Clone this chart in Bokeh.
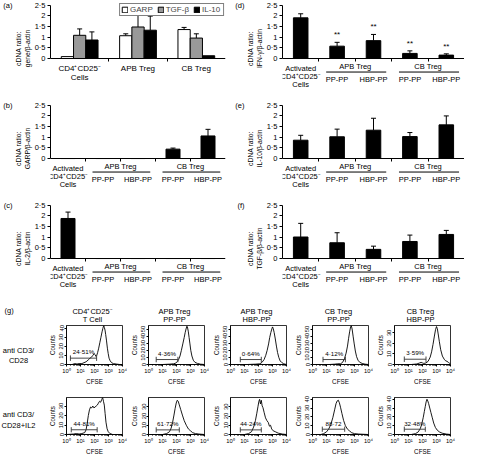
import numpy as np
from bokeh.plotting import figure
from bokeh.models import Range1d, FixedTicker, ColumnDataSource, Whisker, TeeHead, LinearAxis
from bokeh.layouts import row, column
from bokeh.embed import file_html
from bokeh.resources import INLINE
from bokeh.core.properties import value

# ------------------------------------------------------------------ data
Y_TICKS = [0, 0.5, 1, 1.5, 2, 2.5]
Y_TICK_LABELS = ["0", "0·5", "1", "1·5", "2", "2·5"]

# (a) gene expression by cell type
a_cat_line1 = ["CD4⁺CD25⁻", "APB Treg", "CB Treg"]
a_cat_line2 = ["Cells", "", ""]
a_series = ["GARP", "TGF-β", "IL-10"]
a_garp = [0.09, 1.07, 1.36]
a_garp_err = [0.0, 0.09, 0.10]
a_tgf = [1.09, 1.48, 0.96]
a_tgf_err = [0.30, 0.56, 0.20]
a_il10 = [0.87, 1.33, 0.13]
a_il10_err = [0.38, 0.66, 0.0]

# (b)-(f) categories
ctrl_lines = ["Activated", "CD4⁺CD25⁻", "Cells"]
group_names = ["APB Treg", "CB Treg"]
sub_names = ["PP-PP", "HBP-PP", "PP-PP", "HBP-PP"]

b_vals = [0.0, 0.0, 0.0, 0.44, 1.06]
b_err = [0.0, 0.0, 0.0, 0.05, 0.31]
c_vals = [1.88, 0.0, 0.0, 0.0, 0.0]
c_err = [0.30, 0.0, 0.0, 0.0, 0.0]
d_vals = [1.91, 0.58, 0.84, 0.24, 0.16]
d_err = [0.19, 0.18, 0.29, 0.12, 0.06]
d_sig = ["", "**", "**", "**", "**"]
e_vals = [0.86, 1.02, 1.33, 1.03, 1.58]
e_err = [0.23, 0.36, 0.56, 0.19, 0.42]
f_vals = [1.01, 0.74, 0.43, 0.80, 1.13]
f_err = [0.64, 0.47, 0.15, 0.30, 0.19]

# (g) CFSE histograms (log10 CFSE, counts)
g_headers1 = ["CD4⁺CD25⁻", "APB Treg", "APB Treg", "CB Treg", "CB Treg"]
g_headers2 = ["T Cell", "PP-PP", "HBP-PP", "PP-PP", "HBP-PP"]
g_rows = ["anti CD3/\nCD28", "anti CD3/\nCD28+IL2"]
LOG_TICKS = [1, 10, 100, 1000, 10000]
LOG_TICK_LABELS = ["10⁰", "10¹", "10²", "10³", "10⁴"]

t1_exp = [0, 0.4, 0.6, 0.75, 0.9, 1.1, 1.25, 1.4, 1.55, 1.68, 1.78, 1.88, 1.97, 2.04, 2.1, 2.16, 2.22, 2.3,
          2.38, 2.46, 2.54, 2.6, 2.66, 2.7, 2.75, 2.8, 2.86, 2.92, 2.98, 3.04, 3.12, 3.22, 3.35, 3.55, 3.8, 4.0]
t1_cnt = [0, 0, 1, 0.5, 1, 1, 2, 3, 5, 7, 8, 10, 12, 11, 9, 10, 13, 18,
          24, 30, 36, 40, 43, 41, 38, 33, 26, 18, 12, 7, 4, 2, 1, 0.5, 0, 0]
t2_exp = [0, 1.0, 1.5, 1.8, 1.95, 2.05, 2.15, 2.25, 2.35, 2.45, 2.55, 2.62, 2.68, 2.74, 2.78, 2.84, 2.9,
          2.96, 3.02, 3.1, 3.2, 3.32, 3.5, 3.7, 4.0]
t2_cnt = [0, 0, 0.5, 1, 2, 4, 7, 12, 20, 29, 38, 45, 50, 54, 53, 47, 38, 29, 20, 12, 6, 3, 1.5, 0.5, 0]
t3_exp = [0, 1.2, 1.8, 2.1, 2.25, 2.4, 2.52, 2.62, 2.72, 2.8, 2.88, 2.95, 3.0, 3.05, 3.12, 3.2, 3.28,
          3.36, 3.45, 3.55, 3.65, 3.8, 4.0]
t3_cnt = [0, 0, 0.5, 1, 3, 7, 13, 20, 29, 38, 45, 50, 53, 51, 45, 36, 26, 17, 10, 5, 3, 1, 0]
t4_exp = [0, 1.2, 1.6, 1.8, 2.0, 2.15, 2.28, 2.4, 2.5, 2.58, 2.65, 2.72, 2.77, 2.83, 2.9, 2.98, 3.06,
          3.15, 3.25, 3.38, 3.55, 3.75, 4.0]
t4_cnt = [0, 0, 0.5, 1, 1, 3, 8, 16, 26, 37, 46, 53, 55, 50, 40, 29, 19, 11, 6, 3, 1.5, 0.5, 0]
t5_exp = [0, 1.2, 1.6, 1.8, 1.9, 2.0, 2.1, 2.25, 2.4, 2.55, 2.65, 2.75, 2.85, 2.93, 3.0, 3.06, 3.12,
          3.2, 3.3, 3.42, 3.55, 3.65, 3.75, 3.85, 3.95, 4.0]
t5_cnt = [0, 0, 0.5, 1.5, 2, 1.5, 1, 1.5, 3, 7, 12, 19, 27, 33, 36, 34, 29, 22, 14, 8, 5, 3.5, 3, 2, 1, 0.5]

u1_exp = [0, 0.5, 0.7, 0.9, 1.1, 1.3, 1.4, 1.48, 1.56, 1.64, 1.72, 1.8, 1.88, 1.96, 2.04, 2.12, 2.2,
          2.28, 2.36, 2.44, 2.52, 2.58, 2.64, 2.7, 2.76, 2.82, 2.9, 2.98, 3.1, 3.3, 4.0]
u1_cnt = [0, 0.5, 1, 0.5, 1, 2, 5, 12, 20, 26, 29, 28, 30, 28, 29, 30, 31, 33, 35, 34, 37, 39, 35, 31,
          22, 13, 6, 3, 1, 0, 0]
u2_exp = [0, 1.0, 1.3, 1.5, 1.62, 1.72, 1.82, 1.9, 1.98, 2.05, 2.12, 2.2, 2.3, 2.42, 2.55, 2.7, 2.85,
          3.0, 3.15, 3.35, 3.6, 4.0]
u2_cnt = [0, 0, 1, 3, 7, 13, 21, 28, 34, 37, 36, 32, 27, 21, 15, 10, 6, 4, 2, 1, 0.5, 0]
u3_exp = [0, 1.0, 1.3, 1.5, 1.65, 1.78, 1.88, 1.96, 2.03, 2.08, 2.14, 2.2, 2.26, 2.32, 2.4, 2.5, 2.6,
          2.7, 2.78, 2.86, 2.94, 3.05, 3.2, 3.4, 3.7, 4.0]
u3_cnt = [0, 0, 1, 3, 8, 15, 23, 30, 36, 38, 33, 37, 31, 29, 24, 18, 15, 13, 9, 10, 6, 4, 3, 1.5, 0.5, 0]
u4_exp = [0, 0.6, 0.8, 1.0, 1.15, 1.3, 1.45, 1.58, 1.68, 1.76, 1.84, 1.92, 2.0, 2.1, 2.22, 2.35, 2.5,
          2.65, 2.8, 3.0, 3.3, 4.0]
u4_cnt = [0, 0, 1, 3, 6, 11, 19, 28, 35, 38, 39, 36, 31, 24, 16, 10, 6, 4, 2, 1, 0.5, 0]
u5_exp = [0, 1.2, 1.5, 1.7, 1.85, 1.95, 2.05, 2.13, 2.2, 2.26, 2.32, 2.38, 2.44, 2.52, 2.6, 2.7, 2.8,
          2.92, 3.05, 3.2, 3.4, 3.7, 4.0]
u5_cnt = [0, 0, 1, 3, 7, 12, 19, 26, 32, 37, 40, 38, 35, 30, 25, 19, 13, 8, 5, 3, 1.5, 0.5, 0]

top_exp = [t1_exp, t2_exp, t3_exp, t4_exp, t5_exp]
top_cnt = [t1_cnt, t2_cnt, t3_cnt, t4_cnt, t5_cnt]
top_ymax = [43, 55, 55, 55, 37]
top_yticks = [[0, 10, 20, 30, 40], [0, 10, 20, 30, 40, 50], [0, 10, 20, 30, 40, 50],
              [0, 10, 20, 30, 40, 50], [0, 10, 20, 30]]
top_gate_lo = [0.28, 0.55, 0.7, 0.75, 0.7]
top_gate_hi = [2.15, 2.1, 2.2, 2.35, 2.25]
top_gate_y = [7, 7, 7, 7, 5]
top_pct = ["24·51%", "4·36%", "0·64%", "4·12%", "3·59%"]

bot_exp = [u1_exp, u2_exp, u3_exp, u4_exp, u5_exp]
bot_cnt = [u1_cnt, u2_cnt, u3_cnt, u4_cnt, u5_cnt]
bot_ymax = [39, 40, 40, 42, 42]
bot_yticks = [[0, 10, 20, 30], [0, 10, 20, 30], [0, 10, 20, 30], [0, 10, 20, 30, 40], [0, 10, 20, 30, 40]]
bot_gate_lo = [0.34, 0.55, 0.7, 0.7, 0.7]
bot_gate_hi = [2.19, 2.2, 2.2, 2.3, 2.2]
bot_gate_y = [5, 5, 5, 6, 6]
bot_pct = ["44·81%", "61·72%", "44·24%", "88·72", "32·48%"]

# ------------------------------------------------------------------ styling
FONT = "Liberation Sans"
INK = "#000000"
GREY = "#999999"
PPU = 21.3          # px per data unit on bar panels
Y_END = 2.63
SC = 0.966          # reference px -> page px


def below(px):
    """reference-pixel distance below the x axis, in data units"""
    return -px * SC / PPU


def txt(p, xs, ys, texts, size, align="center", baseline="middle", **kw):
    src = ColumnDataSource(dict(x=xs, y=ys, t=texts))
    p.text(x="x", y="y", text="t", source=src, text_font=value(FONT), text_font_size=size,
           text_align=align, text_baseline=baseline, text_color=INK, **kw)


def base_panel(W, H, left, right, ncat, ylab, letter):
    top, bottom = 2, 6
    y_start = Y_END - (H - top - bottom) / PPU
    p = figure(width=W, height=H, x_range=Range1d(-0.5, ncat - 0.5), y_range=Range1d(y_start, Y_END),
               output_backend="svg", toolbar_location=None,
               min_border_left=left, min_border_right=right, min_border_top=top, min_border_bottom=bottom)
    p.outline_line_color = None
    p.grid.visible = False
    ya = p.yaxis[0]
    ya.ticker = FixedTicker(ticks=Y_TICKS)
    ya.major_label_overrides = dict(zip(Y_TICKS, Y_TICK_LABELS))
    ya.bounds = (0, 2.5)
    ya.major_tick_out = 3
    ya.major_tick_in = 0
    ya.minor_tick_line_color = None
    ya.axis_line_color = INK
    ya.major_tick_line_color = INK
    ya.major_label_text_font = FONT
    ya.major_label_text_font_size = "7.5px"
    ya.major_label_text_color = INK
    ya.major_label_standoff = 2
    ya.axis_label = ylab
    ya.axis_label_text_font = FONT
    ya.axis_label_text_font_size = "6.8px"
    ya.axis_label_text_font_style = "normal"
    ya.axis_label_text_color = INK
    ya.axis_label_standoff = 1
    # panel letter: an outer left axis carrying a single label at the top
    lax = LinearAxis(ticker=FixedTicker(ticks=[2.5]), major_label_overrides={2.5: letter},
                     axis_line_color=None, major_tick_line_color=None, minor_tick_line_color=None,
                     major_tick_out=0, major_tick_in=0, major_label_standoff=0,
                     major_label_text_font=FONT, major_label_text_font_size="7.5px",
                     major_label_text_color=INK)
    p.add_layout(lax, "left")
    xa = p.xaxis[0]
    xa.fixed_location = 0
    xa.ticker = FixedTicker(ticks=[], minor_ticks=[k + 0.5 for k in range(ncat - 1)])
    xa.major_label_text_font_size = "0px"
    xa.major_label_standoff = 0
    xa.major_tick_line_color = None
    xa.minor_tick_out = 3
    xa.minor_tick_in = 0
    xa.minor_tick_line_color = INK
    xa.axis_line_color = INK
    return p


def add_whiskers(p, xs, vals, errs):
    keep = [i for i, e in enumerate(errs) if e > 0]
    src = ColumnDataSource(dict(x=[xs[i] for i in keep], lo=[vals[i] for i in keep],
                                hi=[vals[i] + errs[i] for i in keep]))
    p.add_layout(Whisker(source=src, base="x", lower="lo", upper="hi", dimension="height",
                         line_color=INK, line_width=1, lower_head=None,
                         upper_head=TeeHead(size=5, line_color=INK, line_width=1)))


def five_bar_panel(vals, errs, ylab, letter, left, right, sig=None):
    p = base_panel(232, 100, left, right, 5, ylab, letter)
    xs = list(range(len(vals)))
    p.vbar(x=xs, top=vals, bottom=0, width=0.4, fill_color=INK, line_color=INK)
    add_whiskers(p, xs, vals, errs)
    if sig is not None:
        ks = [i for i, s in enumerate(sig) if s]
        txt(p, [xs[i] for i in ks], [vals[i] + errs[i] + 0.35 for i in ks], [sig[i] for i in ks], "8px")
    # category labels
    txt(p, [0] * len(ctrl_lines), [below(10), below(19), below(27)], ctrl_lines, "7.5px")
    gx = [(1 + 2 * g + 2 + 2 * g) / 2 for g in range(len(group_names))]
    txt(p, gx, [below(8)] * len(group_names), group_names, "7.5px")
    p.segment(x0=[1 + 2 * g - 0.3 for g in range(len(group_names))],
              x1=[2 + 2 * g + 0.35 for g in range(len(group_names))],
              y0=[below(14)] * len(group_names), y1=[below(14)] * len(group_names),
              line_color=INK, line_width=1)
    txt(p, list(range(1, 1 + len(sub_names))), [below(22)] * len(sub_names), sub_names, "7.5px")
    return p


# ---- (a)
pa = base_panel(232, 100, 41, 7, 3, "cDNA ratio:\ngene/β-actin", "(a)")
idx = list(range(3))
for vals, errs, off, col, name in [(a_garp, a_garp_err, -0.21, "white", a_series[0]),
                                   (a_tgf, a_tgf_err, 0.0, GREY, a_series[1]),
                                   (a_il10, a_il10_err, 0.21, INK, a_series[2])]:
    xs = [i + off for i in idx]
    pa.vbar(x=xs, top=vals, bottom=0, width=0.21, fill_color=col, line_color=INK, line_width=1,
            legend_label=name)
    add_whiskers(pa, xs, vals, errs)
txt(pa, idx, [below(10)] * 3, a_cat_line1, "8px")
txt(pa, idx, [below(20)] * 3, a_cat_line2, "8px")
lg = pa.legend[0]
lg.orientation = "horizontal"
lg.location = "top_right"
lg.margin = 1
lg.padding = 1
lg.spacing = 4
lg.glyph_width = 7
lg.glyph_height = 7
lg.label_standoff = 2
lg.label_text_font = FONT
lg.label_text_font_size = "8px"
lg.label_height = 8
lg.border_line_color = INK
lg.border_line_width = 1
lg.background_fill_alpha = 1

pb = five_bar_panel(b_vals, b_err, "cDNA ratio:\nGARP/β-actin", "(b)", 41, 7)
pc = five_bar_panel(c_vals, c_err, "cDNA ratio:\nIL-2/β-actin", "(c)", 41, 7)
pd = five_bar_panel(d_vals, d_err, "cDNA ratio:\nIFN-γ/β-actin", "(d)", 49, 0, sig=d_sig)
pe = five_bar_panel(e_vals, e_err, "cDNA ratio:\nIL-10/β-actin", "(e)", 49, 0)
pf = five_bar_panel(f_vals, f_err, "cDNA ratio:\nTGF-β/β-actin", "(f)", 49, 0)

# ---- (g)
LABEL_W = 45
HW = 82
FRAME_W = 60
HL = 17
GW = 464


def blank(W, H):
    p = figure(width=W, height=H, x_range=Range1d(0, W), y_range=Range1d(H, 0), output_backend="svg",
               toolbar_location=None, min_border=0, x_axis_location=None, y_axis_location=None)
    p.grid.visible = False
    p.outline_line_color = None
    return p


hdr = blank(GW, 23)
centers = [LABEL_W + i * HW + HL + FRAME_W / 2 for i in range(5)]
txt(hdr, [4], [9.5], ["(g)"], "7.5px", align="left")
txt(hdr, centers, [10.5] * 5, g_headers1, "7.5px")
txt(hdr, centers, [18.5] * 5, g_headers2, "7.5px")

lab = blank(LABEL_W, 134)
txt(lab, [18, 18], [32, 96.5], g_rows, "7.5px", line_height=1.2)

LOG_MINOR = [m * 10 ** k for k in range(4) for m in range(2, 10)]


def histo(i, exps, cnts, ymax, yt, glo, ghi, gy, pct, H, top, bottom):
    W = HW if i < 4 else GW - LABEL_W - 4 * HW
    p = figure(width=W, height=H, x_axis_type="log", x_range=Range1d(1, 1e4), y_range=Range1d(0, ymax),
               output_backend="svg", toolbar_location=None, min_border_left=HL,
               min_border_right=W - HL - FRAME_W, min_border_top=top, min_border_bottom=bottom)
    p.grid.visible = False
    p.outline_line_color = INK
    p.outline_line_width = 0.8
    p.line(x=[10 ** e for e in exps], y=cnts, line_color=INK, line_width=0.9)
    th = ymax * 0.07
    p.segment(x0=[10 ** glo], x1=[10 ** ghi], y0=[gy], y1=[gy], line_color="#333333", line_width=0.9)
    p.segment(x0=[10 ** glo, 10 ** ghi], x1=[10 ** glo, 10 ** ghi], y0=[gy - th] * 2, y1=[gy + th] * 2,
              line_color="#333333", line_width=0.9)
    txt(p, [10 ** ((glo + ghi) / 2)], [gy + th], [pct], "6.2px", baseline="bottom")
    xa = p.xaxis[0]
    xa.ticker = FixedTicker(ticks=LOG_TICKS, minor_ticks=LOG_MINOR)
    xa.major_label_overrides = dict(zip(LOG_TICKS, LOG_TICK_LABELS))
    xa.axis_label = "CFSE"
    ya = p.yaxis[0]
    ya.ticker = FixedTicker(ticks=yt)
    ya.axis_label = "Counts"
    ya.major_label_orientation = "vertical"
    for ax in (xa, ya):
        ax.axis_line_color = INK
        ax.axis_line_width = 0.8
        ax.major_tick_out = 2
        ax.major_tick_in = 0
        ax.minor_tick_out = 1
        ax.minor_tick_in = 0
        ax.major_tick_line_color = INK
        ax.minor_tick_line_color = INK
        ax.major_label_text_font = FONT
        ax.major_label_text_font_size = "5.8px"
        ax.major_label_text_color = INK
        ax.major_label_standoff = 1
        ax.axis_label_text_font = FONT
        ax.axis_label_text_font_size = "6.3px"
        ax.axis_label_text_font_style = "normal"
        ax.axis_label_text_color = INK
        ax.axis_label_standoff = 1
    ya.minor_tick_line_color = None
    return p


top_figs = [histo(i, top_exp[i], top_cnt[i], top_ymax[i], top_yticks[i], top_gate_lo[i], top_gate_hi[i],
                  top_gate_y[i], top_pct[i], 64, 2, 20) for i in range(5)]
bot_figs = [histo(i, bot_exp[i], bot_cnt[i], bot_ymax[i], bot_yticks[i], bot_gate_lo[i], bot_gate_hi[i],
                  bot_gate_y[i], bot_pct[i], 70, 10, 18) for i in range(5)]

gblock = column(hdr, row(lab, column(row(*top_figs), row(*bot_figs))))
layout = column(row(column(pa, pb, pc), column(pd, pe, pf)), gblock)

open("out.html", "w").write(file_html(layout, INLINE))
